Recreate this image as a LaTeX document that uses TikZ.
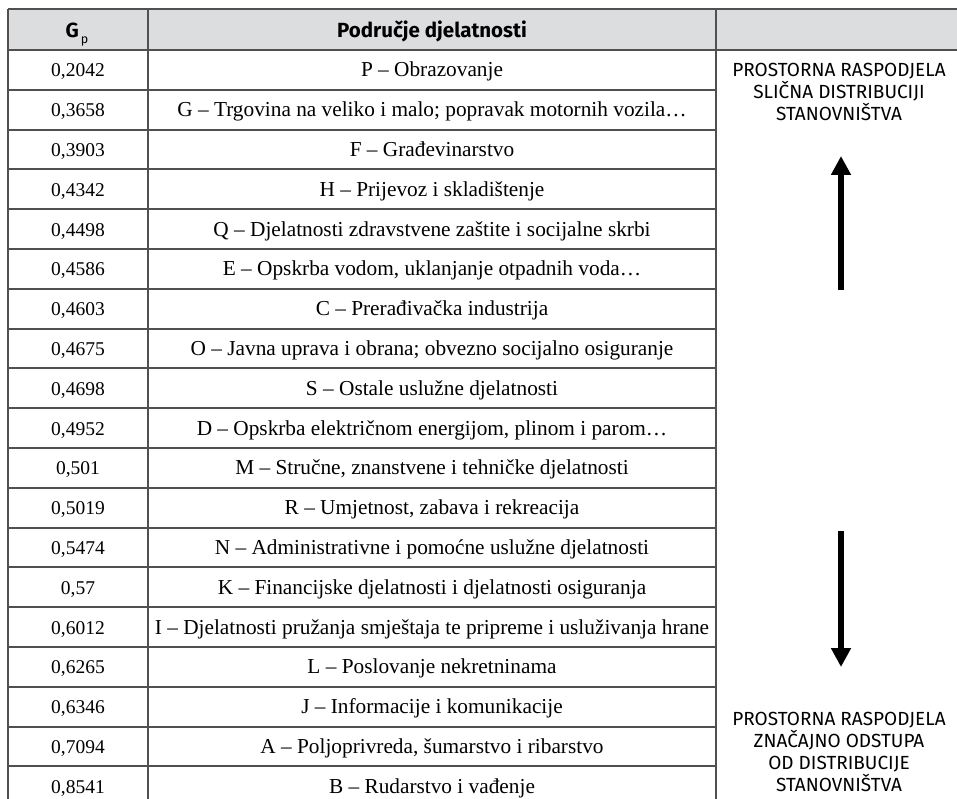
\documentclass[tikz,border=0pt]{standalone}
\usepackage{fontspec}
\setmainfont{Liberation Serif}
\newfontfamily\hdfont{Fira Sans}
\usetikzlibrary{arrows.meta}
\definecolor{rule}{HTML}{505050}
\definecolor{headfill}{HTML}{DCDDDF}
\begin{document}
\begin{tikzpicture}[x=1pt,y=-1pt,
  gridline/.style={draw=rule,line width=1.3pt},
  numcell/.style={anchor=base,inner sep=0pt,font=\fontsize{19.5}{22}\selectfont},
  cell/.style={anchor=base,inner sep=0pt,font=\fontsize{21.3}{24}\selectfont},
  headtxt/.style={anchor=base,inner sep=0pt,font=\hdfont\bfseries\fontsize{20.5}{22}\selectfont},
  sidetxt/.style={anchor=base,inner sep=0pt,align=center,font=\hdfont\fontsize{19}{22}\selectfont},
  bigarrow/.style={line width=6pt,-{Triangle[length=19pt,width=19pt]}}]
\useasboundingbox (0,0) rectangle (957,799);
% header background
\fill[headfill] (8,9) rectangle (957,50);
% horizontal lines
\draw[gridline] (8,9) -- (957,9);
\draw[gridline] (8,50) -- (957,50);
\foreach \k in {1,...,18} {
  \pgfmathsetmacro\yy{round(50+39.8*\k)}
  \draw[gridline] (8,\yy) -- (716,\yy);
}
% vertical lines
\draw[gridline] (8,9) -- (8,799);
\draw[gridline] (148,9) -- (148,799);
\draw[gridline] (716,9) -- (716,799);
% header texts
\node[headtxt] (hgp) at (77,38) {G\hspace{2pt}\raisebox{-6pt}{\fontseries{m}\fontsize{12.5}{12.5}\selectfont p}};
\node[headtxt] (hpd) at (432,38) {Područje djelatnosti};
% rows
\foreach \v/\d [count=\i] in {
 {0,2042}/{P – Obrazovanje},
 {0,3658}/{G – Trgovina na veliko i malo; popravak motornih vozila…},
 {0,3903}/{F – Građevinarstvo},
 {0,4342}/{H – Prijevoz i skladištenje},
 {0,4498}/{Q – Djelatnosti zdravstvene zaštite i socijalne skrbi},
 {0,4586}/{E – Opskrba vodom, uklanjanje otpadnih voda…},
 {0,4603}/{C – Prerađivačka industrija},
 {0,4675}/{O – Javna uprava i obrana; obvezno socijalno osiguranje},
 {0,4698}/{S – Ostale uslužne djelatnosti},
 {0,4952}/{D – Opskrba električnom energijom, plinom i parom…},
 {0,501}/{M – Stručne, znanstvene i tehničke djelatnosti},
 {0,5019}/{R – Umjetnost, zabava i rekreacija},
 {0,5474}/{N – Administrativne i pomoćne uslužne djelatnosti},
 {0,57}/{K – Financijske djelatnosti i djelatnosti osiguranja},
 {0,6012}/{I – Djelatnosti pružanja smještaja te pripreme i usluživanja hrane},
 {0,6265}/{L – Poslovanje nekretninama},
 {0,6346}/{J – Informacije i komunikacije},
 {0,7094}/{A – Poljoprivreda, šumarstvo i ribarstvo},
 {0,8541}/{B – Rudarstvo i vađenje}} {
  \node[numcell] (v\i) at (78,{50+39.8*(\i-0.5)+7}) {\v};
  \node[cell] (d\i) at (432,{50+39.8*(\i-0.5)+7}) {\d};
}
% right column texts
\node[sidetxt] (top1) at (839,77) {PROSTORNA RASPODJELA};
\node[sidetxt] (top2) at (839,99) {SLIČNA DISTRIBUCIJI};
\node[sidetxt] (top3) at (839,121) {STANOVNIŠTVA};
\node[sidetxt] (bot1) at (839,725) {PROSTORNA RASPODJELA};
\node[sidetxt] (bot2) at (839,747) {ZNAČAJNO ODSTUPA};
\node[sidetxt] (bot3) at (839,769) {OD DISTRIBUCIJE};
\node[sidetxt] (bot4) at (839,791) {STANOVNIŠTVA};
% arrows
\coordinate (upfrom) at (841,290);
\coordinate (upto) at (841,156);
\coordinate (dnfrom) at (841,531);
\coordinate (dnto) at (841,667);
\draw[bigarrow] (upfrom) -- (upto);
\draw[bigarrow] (dnfrom) -- (dnto);
\end{tikzpicture}
\end{document}
